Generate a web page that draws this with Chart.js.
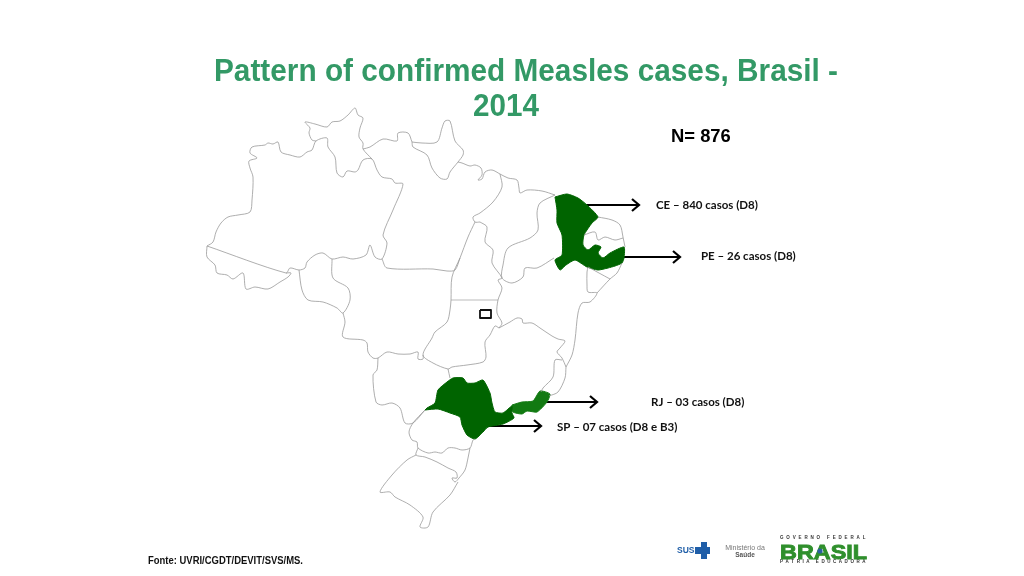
<!DOCTYPE html>
<html lang="pt">
<head>
<meta charset="utf-8">
<title>Measles Brasil 2014</title>
<script src="https://cdn.jsdelivr.net/npm/chart.js@4/dist/chart.umd.min.js"></script>
<style>
    html, body { margin: 0; background: #fff; }
    canvas { display: block; }
</style>
</head>
<body>
<canvas id="mapa" width="1024" height="576"></canvas>
<script>
// --- DADOS ---
const titleLines = ['Pattern of confirmed Measles cases, Brasil -', '2014'];
const totalLabel = 'N= 876';
const sourceLabel = 'Fonte: UVRI/CGDT/DEVIT/SVS/MS.';
const states = ['CE', 'PE', 'RJ', 'SP'];
const caseCounts = ['840', '26', '03', '07'];
const genotypes = ['D8', 'D8', 'D8', 'D8 e B3'];

// --- CONTORNOS DOS ESTADOS (coordenadas do mapa) ---
const amazonas = [[207,246],[213,242],[216,232],[221,223],[228,217],[238,215],[250,212],[252,200],[253,177],[250,168],[249,161],[257,158],[250,153],[252,147],[265,145],[268,143],[273,144],[278,142],[281,152],[290,155],[300,157],[307,152],[312,150],[316,141],[327,138],[328,147],[335,157],[337,173],[343,177],[347,171],[355,172],[358,170],[363,160],[372,159],[377,170],[382,177],[392,179],[395,183],[403,184],[393,210],[383,235],[387,243],[382,259],[375,257],[370,245],[366,255],[353,259],[343,257],[332,259],[323,253],[315,255],[307,262],[305,268],[299,270],[290,268],[286,273],[207,246]];
const roraima = [[316,141],[312,140],[309,133],[310,128],[305,122],[315,124],[327,127],[332,122],[340,121],[348,115],[355,108],[358,115],[363,118],[360,128],[359,137],[363,143],[363,149],[372,159]];
const acre = [[207,246],[207,257],[215,265],[217,273],[227,275],[233,279],[243,273],[246,289],[255,287],[268,289],[280,282],[288,277],[291,273],[286,273]];
const rondonia = [[299,270],[302,290],[308,300],[323,302],[337,308],[343,313],[350,300],[348,288],[333,278],[332,259]];
const paraNorte = [[363,149],[370,147],[383,139],[397,141],[398,133],[408,133],[412,142]];
const amapa = [[412,142],[422,143],[437,142],[442,128],[445,121],[450,121],[455,141],[463,150],[463,155],[458,162],[450,172],[447,179],[440,178],[432,168],[427,155],[413,147],[412,142]];
const paraCosta = [[458,162],[462,163],[470,166],[475,165],[481,168],[482,175],[478,180],[482,179],[485,172],[492,170],[500,174]];
const maranhaoCosta = [[500,174],[508,178],[517,180],[519,188],[520,193],[527,190],[542,191],[555,195]];
const paraMaranhao = [[500,174],[502,187],[493,202],[480,213],[473,217],[475,222],[480,222]];
const paraSul = [[382,259],[387,268],[433,269],[447,271],[455,270],[460,258],[468,237],[475,222]];
const tocantinsLeste = [[480,222],[487,227],[485,242],[493,250],[492,263],[502,278],[498,280],[502,288],[498,300],[497,313],[502,323],[499,328]];
const tocantinsOeste = [[460,258],[452,277],[451,300],[450,310],[447,322],[435,332],[432,338],[423,355],[433,363],[448,369],[452,367],[467,365],[483,362],[486,357],[485,342],[490,335],[495,326],[499,328]];
const goiasNorte = [[451,300],[498,300]];
const matoGrossoOeste = [[343,313],[345,322],[343,337],[363,340],[367,343],[368,352],[373,358],[378,358],[387,352],[398,354],[410,354],[418,352],[418,359],[423,359],[423,355]];
const matoGrossoSul = [[378,358],[377,370],[373,375],[376,402],[382,405],[392,403],[400,408],[405,423],[413,423],[425,410]];
const minasSul = [[448,369],[450,378]];
const minasGerais = [[499,328],[510,322],[517,318],[522,319],[523,323],[532,323],[540,328],[552,336],[558,339],[565,341],[560,348],[557,352],[562,358],[566,367]];
const espiritoSanto = [[566,367],[565,378],[558,392],[549,396]];
const minasLeste = [[562,360],[555,360],[553,377],[543,388],[541,392]];
const bahiaCosta = [[566,367],[572,355],[575,340],[578,313],[582,303],[590,302],[597,293],[588,292],[587,285],[587,272],[588,267]];
const piaui = [[555,195],[540,203],[537,213],[538,230],[530,238],[508,248],[503,265],[502,278],[512,283],[523,277],[525,268],[537,268],[554,258]];
const potiguar = [[598,217],[612,220],[620,225],[623,237],[625,247]];
const paraiba = [[584,235],[595,232],[598,240],[605,237],[615,240],[623,238]];
const alagoas = [[588,267],[610,279]];
const alagoasCosta = [[622,263],[617,273],[610,279],[597,293]];
const parana = [[425,410],[413,423],[409,432],[412,440],[417,442],[418,448],[428,453],[435,452],[442,453],[448,448],[455,448],[462,450],[470,448],[473,440],[475,439]];
const santaCatarina = [[418,448],[416,455],[425,457],[437,462],[448,468],[456,472],[457,478],[452,478],[455,482],[459,478],[465,470],[468,458],[470,448]];
const rioGrande = [[416,455],[407,460],[392,475],[380,492],[390,492],[395,497],[410,505],[423,517],[420,527],[428,527],[433,512],[450,495],[458,482]];
const distritoFederal = [[480,310],[491,310],[491,318],[480,318],[480,310]];

const ceara = [[555,197],[567,194],[578,198],[587,205],[598,217],[592,223],[584,235],[583,245],[588,250],[595,245],[601,247],[598,253],[603,258],[610,253],[624,247],[624,258],[622,263],[615,266],[608,268],[598,270],[587,267],[575,260],[566,265],[560,270],[555,260],[562,255],[562,235],[557,223],[557,210],[555,197]];
const saoPaulo = [[425,410],[427,408],[435,403],[438,390],[447,382],[453,378],[463,378],[467,383],[475,383],[483,380],[490,393],[492,403],[495,412],[503,413],[512,406],[512,413],[514,418],[503,424],[488,427],[483,432],[475,439],[467,435],[462,425],[460,417],[450,413],[438,409],[425,410]];
const rioJaneiro = [[512,405],[522,402],[533,401],[540,391],[550,394],[547,402],[537,412],[527,411],[522,414],[513,412],[512,405]];

const outlines = [amazonas, roraima, acre, rondonia, paraNorte, amapa, paraCosta, maranhaoCosta, paraMaranhao, paraSul, tocantinsLeste, tocantinsOeste, matoGrossoOeste, matoGrossoSul, minasSul, minasGerais, espiritoSanto, minasLeste, bahiaCosta, piaui, potiguar, paraiba, alagoas, alagoasCosta, parana, santaCatarina, rioGrande];
const caseAreas = [ceara, saoPaulo, rioJaneiro];
const caseColors = ['#006400', '#006400', '#127a12'];

// --- SETAS ---
const arrowTails = [[585,205],[620,257],[542,402],[488,426]];
const arrowHeads = [[639,205],[680,257],[597,402],[541,426]];
const labelAnchors = [[656,205],[701,256],[651,402],[557,427]];

// --- GRAFICO ---
const toPoints = shape => shape.map(p => ({ x: p[0], y: p[1] }));

const datasets = [];
outlines.forEach(shape => {
    datasets.push({ data: toPoints(shape), showLine: true, tension: 0.3, borderColor: '#999', borderWidth: 0.8, pointRadius: 0, fill: false });
});
datasets.push({ data: toPoints(goiasNorte), showLine: true, borderColor: '#bbb', borderWidth: 1.2, pointRadius: 0 });
datasets.push({ data: toPoints(distritoFederal), showLine: true, borderColor: '#111', borderWidth: 1.8, pointRadius: 0, borderJoinStyle: 'round' });
caseAreas.forEach((shape, i) => {
    datasets.push({ data: toPoints(shape), showLine: true, tension: 0.2, borderColor: caseColors[i], backgroundColor: caseColors[i], borderWidth: 1, pointRadius: 0, fill: 'shape' });
});
arrowTails.forEach((tail, i) => {
    datasets.push({ data: toPoints([tail, arrowHeads[i]]), showLine: true, borderColor: '#000', borderWidth: 2, pointRadius: 0 });
});

// Texto esticado ate a largura certa
function fitText(ctx, text, x, y, width) {
    const w = ctx.measureText(text).width;
    ctx.save();
    ctx.translate(x, y);
    ctx.scale(width / w, 1);
    ctx.fillText(text, 0, 0);
    ctx.strokeText(text, 0, 0);
    ctx.restore();
}

// Textos e logotipos desenhados por cima do mapa
const textPlugin = {
    id: 'textos',
    afterDraw(chart) {
        const ctx = chart.ctx;
        const px = chart.scales.x, py = chart.scales.y;
        ctx.save();
        ctx.textBaseline = 'middle';

        // Titulo
        ctx.fillStyle = '#339966';
        ctx.strokeStyle = 'transparent';
        ctx.font = 'bold 32px "Liberation Sans"';
        ctx.textAlign = 'left';
        fitText(ctx, titleLines[0], 214, 72, 624);
        fitText(ctx, titleLines[1], 473, 107, 66);

        ctx.fillStyle = '#000';
        ctx.font = 'bold 18.4px "Liberation Sans"';
        ctx.fillText(totalLabel, 671, 137);

        // Pontas das setas e rotulos
        arrowHeads.forEach((head, i) => {
            const x = px.getPixelForValue(head[0]), y = py.getPixelForValue(head[1]);
            ctx.strokeStyle = '#000';
            ctx.lineWidth = 2.2;
            ctx.beginPath();
            ctx.moveTo(x - 7, y - 6);
            ctx.lineTo(x, y);
            ctx.lineTo(x - 7, y + 6);
            ctx.stroke();

            ctx.fillStyle = '#111';
            ctx.font = 'bold 11.5px Lato';
            ctx.fillText(`${states[i]} – ${caseCounts[i]} casos (${genotypes[i]})`, labelAnchors[i][0], labelAnchors[i][1]);
        });

        ctx.fillStyle = '#111';
        ctx.strokeStyle = 'transparent';
        ctx.font = 'bold 10.5px "Liberation Sans"';
        fitText(ctx, sourceLabel, 148, 561.5, 155);

        // Logo SUS
        ctx.fillStyle = '#1f5ea8';
        ctx.font = 'bold 8.5px "Liberation Sans"';
        ctx.fillText('SUS', 677, 551);
        ctx.fillRect(701, 542, 6, 17);
        ctx.fillRect(695, 547, 15, 7);

        // Logo Ministerio
        ctx.fillStyle = '#777';
        ctx.font = '7px "Liberation Sans"';
        ctx.textAlign = 'center';
        ctx.fillText('Ministério da', 745, 548);
        ctx.fillStyle = '#555';
        ctx.font = 'bold 6.5px "Liberation Sans"';
        ctx.fillText('Saúde', 745, 555);

        // Logo governo
        ctx.fillStyle = '#333';
        ctx.font = 'bold 4.5px "Liberation Sans"';
        ctx.textAlign = 'left';
        ctx.letterSpacing = '2.85px';
        ctx.fillText('GOVERNO FEDERAL', 780, 538);
        ctx.letterSpacing = '2.55px';
        ctx.fillText('PÁTRIA EDUCADORA', 780, 561.5);
        ctx.letterSpacing = '0px';

        const grad = ctx.createLinearGradient(780, 543, 867, 558);
        grad.addColorStop(0, '#2f8f2c');
        grad.addColorStop(0.45, '#c9c92a');
        grad.addColorStop(0.7, '#5fa02c');
        grad.addColorStop(1, '#e0c92a');
        ctx.fillStyle = grad;
        ctx.strokeStyle = grad;
        ctx.lineWidth = 0.9;
        ctx.font = 'bold 21px "Liberation Sans"';
        ctx.textBaseline = 'alphabetic';
        fitText(ctx, 'BRASIL', 780, 558.5, 87);
        ctx.fillStyle = '#2c5fa0';
        ctx.beginPath();
        ctx.arc(820, 551, 2.6, 0, Math.PI * 2);
        ctx.fill();
        ctx.restore();
    }
};

new Chart(document.getElementById('mapa'), {
    type: 'scatter',
    data: { datasets },
    plugins: [textPlugin],
    options: {
        responsive: false,
        animation: false,
        layout: { padding: 0 },
        plugins: { legend: { display: false }, tooltip: { enabled: false } },
        scales: {
            x: { type: 'linear', min: 0, max: 1024, display: false },
            y: { type: 'linear', min: 0, max: 576, reverse: true, display: false }
        }
    }
});
</script>
</body>
</html>
